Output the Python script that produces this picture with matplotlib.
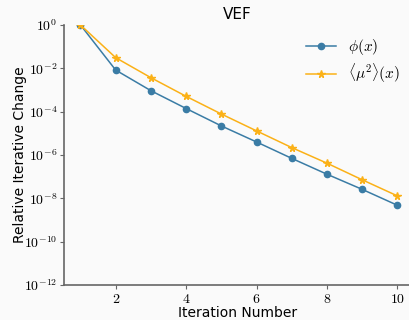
import matplotlib
matplotlib.use("Agg")
import matplotlib.pyplot as plt
import numpy as np

iterations = [1, 2, 3, 4, 5, 6, 7, 8, 9, 10]
phi_change = [1.0, 8.3e-3, 9.3e-4, 1.4e-4, 2.2e-5, 4.0e-6, 7.0e-7, 1.3e-7, 2.6e-8, 4.8e-9]
mu2_change = [1.0, 3.1e-2, 3.7e-3, 5.1e-4, 7.8e-5, 1.3e-5, 2.2e-6, 4.2e-7, 7.2e-8, 1.3e-8]

plt.rcParams["mathtext.fontset"] = "cm"
bg = "#fafafa"

fig = plt.figure(figsize=(4.1, 3.2), dpi=100, facecolor=bg)
ax = fig.add_axes([64.3 / 410, 1 - 285 / 320, (410 - 64.3) / 410, 260 / 320])
ax.set_facecolor(bg)

ax.semilogy(iterations, phi_change, color="#3a7ca5", marker="o", markersize=4.5,
            linewidth=1.1, label=r"$\phi(x)$")
ax.semilogy(iterations, mu2_change, color="#fbb117", marker="*", markersize=5.5,
            linewidth=1.1, label=r"$\langle\mu^2\rangle(x)$")

ax.set_xlim(0.54, 10.36)
ax.set_ylim(1e-12, 1)
ax.set_xticks([2, 4, 6, 8, 10])
ax.set_xticklabels([r"$%d$" % v for v in [2, 4, 6, 8, 10]])
yt = [10.0 ** e for e in range(0, -13, -2)]
ax.set_yticks(yt)
ax.set_yticklabels([r"$10^{%d}$" % e for e in range(0, -13, -2)])
ax.yaxis.set_minor_locator(matplotlib.ticker.NullLocator())

for s in ["top", "right"]:
    ax.spines[s].set_visible(False)
for s in ["left", "bottom"]:
    ax.spines[s].set_color("#666666")
    ax.spines[s].set_linewidth(1.2)
ax.tick_params(length=3, color="#666666", labelsize=10, pad=2)

ax.set_title("VEF", fontsize=11, pad=4)
ax.set_xlabel("Iteration Number", fontsize=10, labelpad=0)
ax.set_ylabel("Relative Iterative Change", fontsize=10, labelpad=-2)
ax.legend(loc="upper right", frameon=False, fontsize=11, labelspacing=0.3,
          handlelength=2.0, bbox_to_anchor=(1.012, 1.005))

fig.savefig("out.png", dpi=100, facecolor=bg)
